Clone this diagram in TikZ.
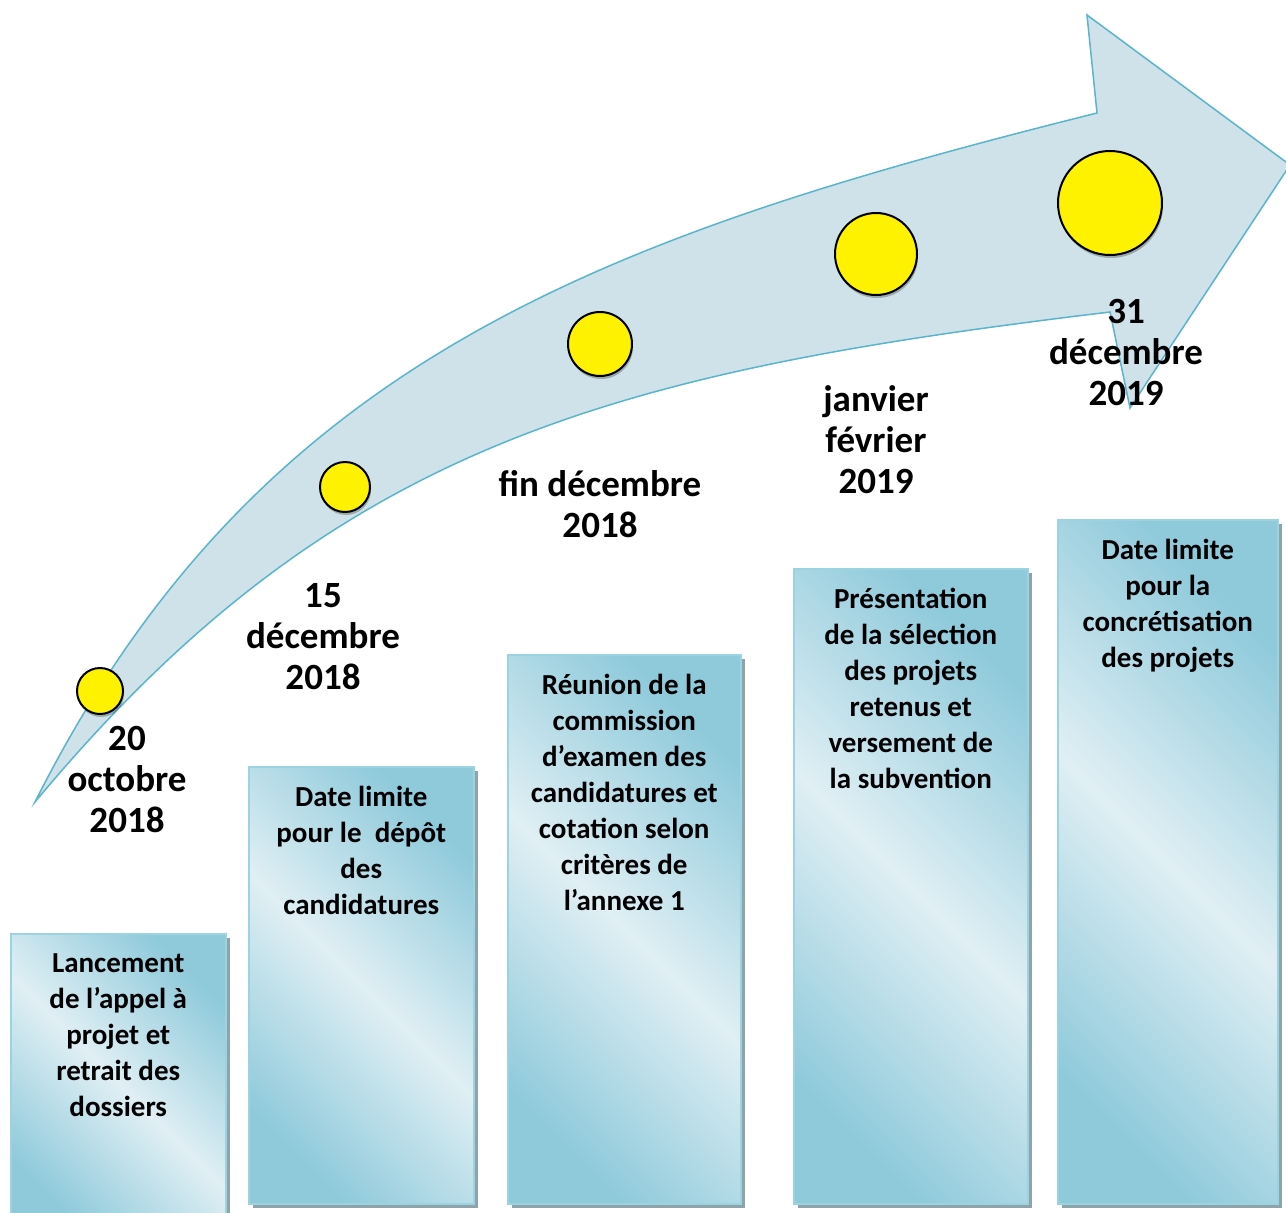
\documentclass[tikz,border=0pt]{standalone}
\usepackage{fontspec}
\setmainfont{Carlito}
\usetikzlibrary{positioning,shadows}
\definecolor{arrowfill}{HTML}{CFE2E9}
\definecolor{arrowline}{HTML}{5AB4CC}
\definecolor{boxdark}{HTML}{8FCADB}
\definecolor{boxlight}{HTML}{E0EFF4}
\definecolor{boxline}{HTML}{9CD3E1}
\definecolor{boxshadow}{HTML}{8EA3AA}
\begin{document}
\begin{tikzpicture}[x=1pt, y=-1pt,
    box/.style={draw=boxline, line width=1.5pt, anchor=north west, inner sep=0pt,
        left color=boxdark, right color=boxdark, middle color=boxlight, shading angle=-45,
        drop shadow={shadow xshift=4pt, shadow yshift=-4pt, fill=boxshadow, opacity=1}},
    boxtext/.style={align=center, inner sep=0pt, font=\fontsize{29}{36}\selectfont\bfseries},
    datelabel/.style={align=center, inner sep=0pt, font=\fontsize{37}{41}\selectfont\bfseries},
    dot/.style={circle, draw=black, line width=2pt, fill=yellow, inner sep=0pt,
        drop shadow={shadow xshift=1pt, shadow yshift=-3pt, fill=black, opacity=0.25}}]
    \useasboundingbox (0,0) rectangle (1286,1213);
    \clip (0,0) rectangle (1286,1213);
    % the curved arrow
    \draw[fill=arrowfill, draw=arrowline, line width=1.5pt, line join=miter]
        (35,802) .. controls (256,363) and (597,238) .. (1097,113)
        -- (1087,15) -- (1290,165) -- (1130,408) -- (1110,312)
        .. controls (610,372) and (332,445) .. (35,802) -- cycle;
    % milestones on the arrow
    \node[dot, minimum size=46pt]  (d1) at (100,691) {};
    \node[dot, minimum size=50pt]  (d2) at (345,487) {};
    \node[dot, minimum size=64pt]  (d3) at (600,344) {};
    \node[dot, minimum size=82pt]  (d4) at (876,254) {};
    \node[dot, minimum size=104pt] (d5) at (1110,203) {};
    % dates
    \node[datelabel] (l1) at (127,779) {20\\octobre\\2018};
    \node[datelabel] (l2) at (323,637) {15\\décembre\\2018};
    \node[datelabel] (l3) at (600,504) {fin décembre\\2018};
    \node[datelabel] (l4) at (876,440) {janvier\\février\\2019};
    \node[datelabel] (l5) at (1126,352) {31\\décembre\\2019};
    % steps
    \node[box, minimum width=215pt, minimum height=300pt] (b1) at (10,933) {};
    \node[box, minimum width=225pt, minimum height=437pt] (b2) at (248,766) {};
    \node[box, minimum width=233pt, minimum height=549pt] (b3) at (507,654) {};
    \node[box, minimum width=234pt, minimum height=635pt] (b4) at (793,568) {};
    \node[box, minimum width=220pt, minimum height=684pt] (b5) at (1057,519) {};
    \node[boxtext, below=20pt of b1.north] {Lancement\\de l’appel à\\projet et\\retrait des\\dossiers};
    \node[boxtext, below=20pt of b2.north] {Date limite\\pour le\ \ dépôt\\des\\candidatures};
    \node[boxtext, below=20pt of b3.north] {Réunion de la\\commission\\d’examen des\\candidatures et\\cotation selon\\critères de\\l’annexe 1};
    \node[boxtext, below=20pt of b4.north] {Présentation\\de la sélection\\des projets\\retenus et\\versement de\\la subvention};
    \node[boxtext, below=20pt of b5.north] {Date limite\\pour la\\concrétisation\\des projets};
\end{tikzpicture}
\end{document}
